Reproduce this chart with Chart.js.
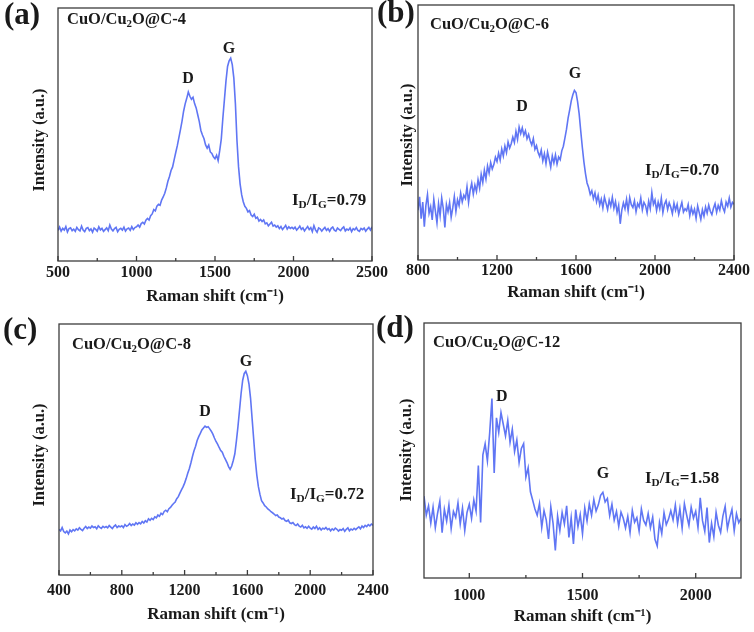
<!DOCTYPE html>
<html>
<head>
<meta charset="utf-8">
<script src="https://cdn.jsdelivr.net/npm/chart.js@4/dist/chart.umd.min.js"></script>
<style>
  body { margin: 0; background: #fff; }
  #wrap { position: relative; width: 754px; height: 632px; overflow: hidden; background: #fff; }
  #wrap canvas { position: absolute; left: 0; top: 0; }
</style>
</head>
<body>
<div id="wrap">
  <canvas id="chartA" width="754" height="632"></canvas>
  <canvas id="chartB" width="754" height="632"></canvas>
  <canvas id="chartC" width="754" height="632"></canvas>
  <canvas id="chartD" width="754" height="632"></canvas>
</div>
<script>
// labels
const panelLetters = ['(a)', '(b)', '(c)', '(d)'];
const sampleNames = ['CuO/Cu_2O@C-4', 'CuO/Cu_2O@C-6', 'CuO/Cu_2O@C-8', 'CuO/Cu_2O@C-12'];
const ratios = ['0.79', '0.70', '0.72', '1.58'];

// x axes: range, tick labels, sampling (start, step)
const rangeA = [500, 2500];
const ticksA = [500, 1000, 1500, 2000, 2500];
const shiftA = [500, 10];
const rangeB = [800, 2400];
const ticksB = [800, 1200, 1600, 2000, 2400];
const shiftB = [800, 8];
const rangeC = [400, 2400];
const ticksC = [400, 800, 1200, 1600, 2000, 2400];
const shiftC = [400, 10];
const rangeD = [800, 2200];
const ticksD = [1000, 1500, 2000];
const shiftD = [800, 10];

// Raman intensity (a.u.)
const intensityA = [
  12.1,13.4,11.8,12.9,12.2,13.6,11.5,12.8,13.1,12.0,
  12.6,11.7,13.3,12.4,11.9,13.8,12.2,11.6,12.9,13.2,
  12.0,12.7,11.4,13.0,12.5,11.8,13.5,12.3,12.9,11.7,
  12.4,13.1,12.0,14.2,12.6,11.9,12.8,13.3,11.6,12.5,
  12.9,12.2,13.4,11.8,12.7,13.0,12.1,13.6,12.4,13.2,
  13.5,14.2,13.4,14.8,15.3,14.6,16.1,16.8,16.2,17.9,
  18.6,20.3,19.8,21.7,22.4,22.0,24.1,25.3,26.8,28.9,
  31.5,33.4,35.8,37.2,40.1,42.9,45.6,48.8,51.9,55.3,
  59.2,62.1,64.3,66.8,65.1,63.9,64.7,62.2,60.5,57.8,
  55.1,51.6,49.8,48.3,45.9,44.6,45.8,43.1,42.5,41.2,
  40.4,41.8,39.7,43.6,48.2,56.4,63.8,71.2,76.9,79.1,
  80.2,77.6,72.3,62.1,47.5,37.2,30.4,26.1,23.4,21.6,
  20.8,19.4,19.9,18.2,17.6,18.5,16.9,17.3,15.8,16.4,
  15.6,16.2,14.7,15.1,13.9,14.6,15.3,13.8,14.2,13.4,
  13.9,12.8,13.6,12.4,13.2,14.1,12.6,13.5,12.9,13.3,
  12.7,13.4,12.2,12.9,13.8,12.5,13.1,11.9,12.8,13.6,
  12.4,13.2,11.6,14.0,12.3,11.4,13.1,12.7,11.8,12.6,
  13.3,12.1,12.8,11.7,12.9,13.4,12.2,11.8,13.0,12.5,
  12.0,12.9,13.5,11.9,12.6,12.2,13.1,11.6,12.8,12.3,
  13.2,12.1,11.7,12.9,12.4,13.0,11.8,12.6,13.3,12.2,13.5
];
const intensityB = [
  19.5,24.8,16.2,22.7,13.1,21.4,25.6,18.3,20.9,15.7,
  23.8,19.2,14.6,22.1,17.4,24.3,20.2,12.8,21.7,18.9,
  22.5,16.8,20.4,24.9,19.1,23.6,21.3,26.2,22.8,25.4,
  24.1,28.7,22.6,27.3,30.1,25.8,29.4,26.9,31.5,28.2,
  33.6,30.4,35.2,31.8,36.9,34.1,38.2,35.7,37.4,40.3,
  38.6,41.9,39.2,43.5,40.8,44.7,42.1,46.3,43.9,45.6,
  48.2,46.1,50.4,47.3,52.1,49.6,51.8,48.9,50.7,47.5,
  49.2,46.8,45.1,47.6,43.4,44.9,42.2,40.6,43.1,38.9,
  41.7,37.8,42.3,39.5,36.4,40.8,38.1,41.2,37.6,40.4,
  39.3,42.8,44.6,47.9,51.3,55.6,58.9,62.4,64.8,66.5,
  65.7,62.1,57.3,50.6,44.2,38.5,33.9,30.2,28.4,25.7,
  27.2,24.1,26.3,22.8,25.4,21.6,23.9,20.4,24.7,22.3,
  19.8,23.5,21.1,24.6,20.3,22.9,18.7,21.5,14.2,19.6,
  22.4,20.1,23.8,19.3,24.5,21.7,20.6,23.2,18.9,22.1,
  20.8,24.3,19.7,22.6,21.4,18.5,23.1,20.2,26.4,21.8,
  23.5,19.4,22.7,20.1,24.2,18.6,21.9,23.3,19.8,22.4,
  20.7,18.2,22.3,19.5,21.8,17.9,20.4,22.6,18.8,20.1,
  19.3,21.7,17.4,20.6,18.1,19.9,16.3,21.2,18.6,15.9,
  19.7,17.2,20.8,18.4,21.5,19.1,17.8,20.3,22.1,18.7,
  21.4,19.6,23.2,20.5,18.9,22.7,21.1,24.3,20.8,22.6,
  21.9
];
const intensityC = [
  18.2,17.6,18.9,17.3,16.8,17.5,16.4,17.9,17.2,18.1,
  17.6,18.4,17.9,18.8,18.2,17.7,18.6,19.3,18.5,19.1,
  18.7,19.5,18.9,19.2,18.4,19.6,19.0,18.6,19.4,18.9,
  19.3,18.8,19.7,19.1,18.5,19.4,19.9,18.9,19.5,19.2,
  19.6,18.9,20.1,19.4,19.8,20.5,19.7,20.3,19.9,20.8,
  20.2,20.9,20.4,21.3,20.7,21.6,21.1,22.4,21.8,22.6,
  22.1,23.2,22.8,23.9,23.4,24.6,24.1,25.3,25.8,25.2,
  26.4,26.9,27.8,28.5,29.1,30.4,31.2,32.6,33.9,35.1,
  36.6,38.4,40.5,42.3,44.6,47.2,49.5,51.3,53.6,55.1,
  56.4,57.8,58.6,59.3,58.8,59.1,58.2,57.3,56.1,54.6,
  53.2,52.1,50.8,49.6,48.9,47.3,46.1,44.8,43.2,42.1,
  43.4,45.6,48.3,53.4,59.2,65.8,72.4,77.6,80.3,81.2,
  79.4,76.1,70.5,62.3,54.2,46.1,39.8,35.2,32.1,29.6,
  28.7,27.6,27.1,26.3,25.9,25.2,24.8,24.3,23.7,23.9,
  23.1,22.8,22.3,22.6,21.7,21.4,21.9,20.8,20.5,20.9,
  20.1,19.7,20.3,19.5,19.1,19.8,18.8,19.2,18.6,19.4,
  18.7,18.3,19.1,18.5,19.4,18.2,18.8,17.9,18.6,18.3,
  18.9,18.1,18.5,17.6,18.4,17.9,18.7,18.2,17.5,18.1,
  17.8,18.5,17.4,18.2,18.8,17.6,18.3,17.9,18.6,18.1,
  18.7,19.2,18.4,19.5,18.9,19.8,19.3,20.1,19.6,20.3,
  19.8
];
const intensityD = [
  32.1,24.6,28.3,21.5,27.8,19.7,25.4,30.2,17.8,26.9,
  22.3,28.6,19.4,26.1,23.8,29.5,21.2,27.4,18.6,25.7,
  28.9,23.4,30.6,26.2,44.1,21.8,48.3,52.6,45.9,56.8,
  70.4,41.2,62.8,57.1,64.9,60.3,55.7,61.8,53.2,58.4,
  49.6,54.1,45.3,50.8,52.7,39.6,43.2,33.8,30.5,27.1,
  24.6,29.2,19.8,26.4,22.7,15.3,27.9,21.4,10.8,24.3,
  18.6,25.7,21.2,28.3,15.9,23.6,13.4,26.8,20.1,24.9,
  17.3,27.5,22.4,29.1,24.6,30.8,26.3,28.7,32.4,33.6,
  29.8,31.2,24.5,28.9,22.7,26.1,20.3,25.8,23.4,19.6,
  24.2,17.8,26.5,21.9,23.7,18.4,27.1,22.6,20.8,25.3,
  19.7,23.9,15.2,12.6,21.8,17.4,25.6,20.9,23.1,26.4,
  22.8,28.6,21.3,27.2,19.5,29.1,24.7,20.6,27.8,23.5,
  26.2,19.8,31.4,22.5,18.3,27.6,13.9,21.4,16.2,25.8,
  20.7,17.9,24.3,28.1,19.4,23.6,26.9,18.5,25.2,21.7,
  23.4
];

const W = 754, H = 632;
const lineColor = 'rgb(96, 118, 244)';
const inkColor = '#1a1a1a';
const axisColor = '#3c3c3c';
const serif = '"Liberation Serif", "Times New Roman", serif';

// layout of each panel (page pixels); labels placed in data units
const panels = [
  { id: 'chartA', values: intensityA, shift: shiftA, range: rangeA, ticks: ticksA,
    plot: [58, 8, 372, 261], axisH: 49, tickPad: 2, titlePad: 3,
    letter: [4, 16], name: [67, 20], yTitle: [40, 140],
    dLabel: [1328, 72], gLabel: [1589, 84], ratioAt: [1990, 24] },
  { id: 'chartB', values: intensityB, shift: shiftB, range: rangeB, ticks: ticksB,
    plot: [418, 5, 734, 260], axisH: 46, tickPad: 1, titlePad: 3,
    letter: [377, 14], name: [430, 25], yTitle: [408, 135],
    dLabel: [1327, 60], gLabel: [1595, 73], ratioAt: [1949, 35] },
  { id: 'chartC', values: intensityC, shift: shiftC, range: rangeC, ticks: ticksC,
    plot: [59, 324, 373, 575], axisH: 53, tickPad: 6, titlePad: 3,
    letter: [3, 331], name: [72, 345], yTitle: [40, 455],
    dLabel: [1330, 65], gLabel: [1591, 85], ratioAt: [1871, 32] },
  { id: 'chartD', values: intensityD, shift: shiftD, range: rangeD, ticks: ticksD,
    plot: [424, 323, 741, 578], axisH: 52, tickPad: 8, titlePad: 3,
    letter: [376, 329], name: [433, 343], yTitle: [407, 450],
    dLabel: [1144, 71], gLabel: [1590, 41], ratioAt: [1776, 39] }
];

// draws text where "_x" makes x a subscript
function richText(ctx, str, x, y, size) {
  let cx = x;
  for (let i = 0; i < str.length; i++) {
    let ch = str[i], sub = false;
    if (ch === '_') { sub = true; ch = str[++i]; }
    const s = sub ? size * 0.66 : size;
    ctx.font = 'bold ' + s + 'px ' + serif;
    ctx.fillText(ch, cx, sub ? y + size * 0.28 : y);
    cx += ctx.measureText(ch).width;
  }
}

function decor(p, idx) {
  return {
    id: 'decor',
    afterDatasetsDraw(chart) {
      const { ctx, chartArea: a, scales: { x, y } } = chart;
      ctx.save();
      // frame
      ctx.strokeStyle = axisColor;
      ctx.lineWidth = 1.3;
      ctx.strokeRect(a.left, a.top, a.right - a.left, a.bottom - a.top);
      // inward ticks, major + minor
      const step = p.ticks[1] - p.ticks[0];
      ctx.beginPath();
      p.ticks.forEach(v => {
        const px = x.getPixelForValue(v);
        ctx.moveTo(px, a.bottom); ctx.lineTo(px, a.bottom - 5);
      });
      for (let v = p.ticks[0] - step / 2; v <= p.range[1]; v += step) {
        if (v <= p.range[0]) continue;
        const px = x.getPixelForValue(v);
        ctx.moveTo(px, a.bottom); ctx.lineTo(px, a.bottom - 3);
      }
      ctx.stroke();

      ctx.fillStyle = inkColor;
      ctx.textBaseline = 'middle';
      ctx.textAlign = 'left';
      // panel letter
      ctx.font = 'bold 31px ' + serif;
      ctx.fillText(panelLetters[idx], p.letter[0], p.letter[1]);
      // sample name
      richText(ctx, sampleNames[idx], p.name[0], p.name[1], 16.5);
      // I_D/I_G
      richText(ctx, 'I_D/I_G=' + ratios[idx], x.getPixelForValue(p.ratioAt[0]), y.getPixelForValue(p.ratioAt[1]), 17);
      // peak labels
      ctx.textAlign = 'center';
      ctx.font = 'bold 16px ' + serif;
      ctx.fillText('D', x.getPixelForValue(p.dLabel[0]), y.getPixelForValue(p.dLabel[1]));
      ctx.fillText('G', x.getPixelForValue(p.gLabel[0]), y.getPixelForValue(p.gLabel[1]));
      // y title
      ctx.translate(p.yTitle[0], p.yTitle[1]);
      ctx.rotate(-Math.PI / 2);
      ctx.font = 'bold 16.5px ' + serif;
      ctx.fillText('Intensity (a.u.)', 0, 0);
      ctx.restore();
    }
  };
}

panels.forEach((p, idx) => {
  const points = p.values.map((v, i) => ({ x: p.shift[0] + i * p.shift[1], y: v }));
  new Chart(document.getElementById(p.id), {
    type: 'line',
    data: {
      datasets: [{
        data: points,
        borderColor: lineColor,
        borderWidth: 1.6,
        pointRadius: 0,
        tension: 0,
        fill: false
      }]
    },
    options: {
      responsive: false,
      animation: false,
      devicePixelRatio: 1,
      layout: {
        padding: { left: p.plot[0], top: p.plot[1], right: W - p.plot[2], bottom: H - p.plot[3] - p.axisH }
      },
      plugins: { legend: { display: false }, tooltip: { enabled: false } },
      scales: {
        x: {
          type: 'linear',
          min: p.range[0],
          max: p.range[1],
          afterBuildTicks: s => { s.ticks = p.ticks.map(v => ({ value: v })); },
          afterFit: s => { s.height = p.axisH; },
          grid: { display: false, drawTicks: false },
          border: { display: false },
          ticks: {
            padding: p.tickPad,
            color: inkColor,
            maxRotation: 0,
            autoSkip: false,
            font: { family: serif, size: 16, weight: 'bold' },
            callback: v => String(v)
          },
          title: {
            display: true,
            text: 'Raman shift (cm⁻¹)',
            color: inkColor,
            font: { family: serif, size: 17, weight: 'bold' },
            padding: { top: 0, bottom: p.titlePad }
          }
        },
        y: { display: false, min: 0, max: 100 }
      }
    },
    plugins: [decor(p, idx)]
  });
});
</script>
</body>
</html>
